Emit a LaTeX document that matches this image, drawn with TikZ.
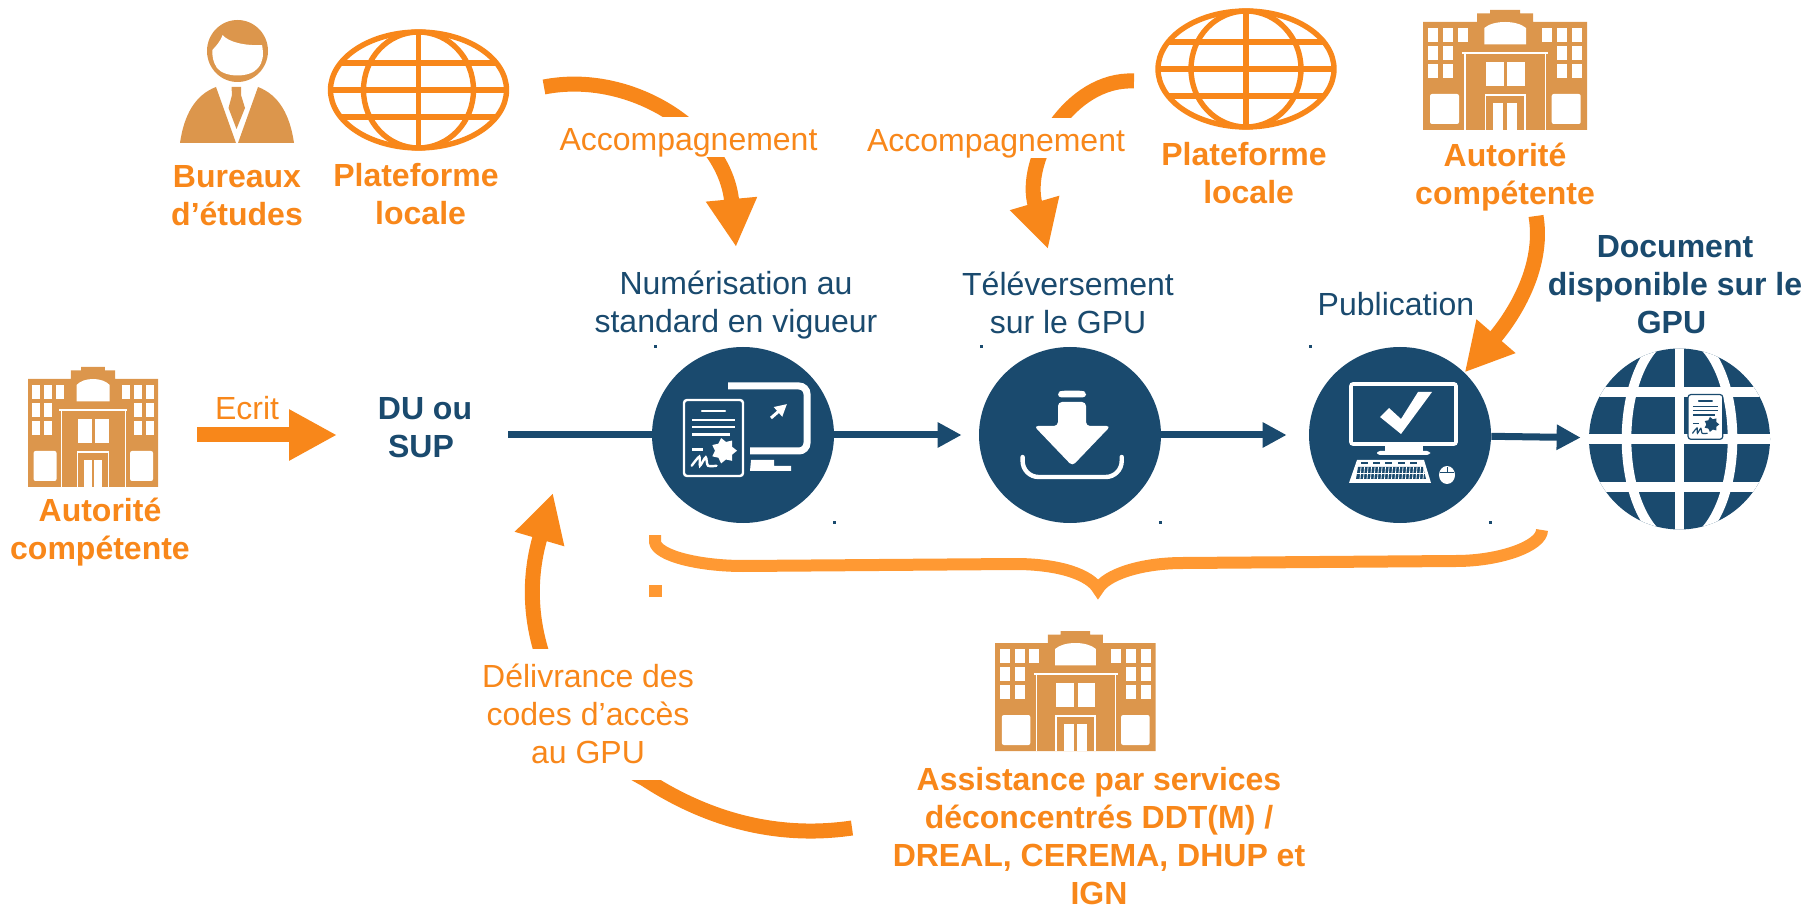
\documentclass[tikz,border=0pt]{standalone}
\usepackage{fontspec}
\setmainfont{Liberation Sans}
\usetikzlibrary{arrows.meta}
\usetikzlibrary{shapes.geometric}

\definecolor{gpunavy}{HTML}{1A4A6E}
\definecolor{gpuorange}{HTML}{F8871A}
\definecolor{bldorange}{HTML}{DC964C}
\definecolor{braceorange}{HTML}{FF9933}

\tikzset{
  % building icon, drawn in a 164 x 120 box from its top left corner
  pics/building/.style={code={
    \fill[bldorange] (0,120) -- (0,12) -- (54,12) -- (54,3.5) -- (67,3.5) -- (67,0) -- (97,0) -- (97,3.5) -- (110,3.5) -- (110,12) -- (164,12) -- (164,120) -- cycle;
    \foreach \wx in {5.3,20.3,133.7,148.7} \foreach \wy in {17.7,36,54.3}
      \fill[white] (\wx,\wy) rectangle ++(10,14);
    \fill[white] (34.7,17.7) rectangle ++(10.5,14);
    \fill[white] (118.7,17.7) rectangle ++(10,14);
    \fill[white] (61.3,34.3) -- (61.3,18) .. controls (70,10) and (94,10) .. (103,18) -- (103,34.3) -- cycle;
    \fill[white] (39.3,41.7) rectangle (125.3,44.3);
    \fill[white] (41.4,44) rectangle (42.6,120);
    \fill[white] (122,44) rectangle (123.2,120);
    \fill[white] (62.7,51.7) rectangle (80.7,76);
    \fill[white] (84.3,51.7) rectangle (102,76);
    \draw[white,line width=.6pt] (62.3,120) -- (62.3,85) -- (102,85) -- (102,120);
    \fill[white] (70.3,93.3) rectangle (80.3,120);
    \fill[white] (83.7,93.3) rectangle (93.7,120);
    \fill[white,rounded corners=1pt] (7,114) -- (7,84) -- (36,84) -- (36,114) -- cycle;
    \fill[white,rounded corners=1pt] (128.7,114) -- (128.7,84) -- (157.7,84) -- (157.7,114) -- cycle;
  }},
  % wire globe, from its centre
  pics/wireglobe/.style={code={
    \draw[gpuorange,line width=2.7pt] (0,0) ellipse [x radius=88,y radius=58];
    \draw[gpuorange,line width=2.7pt] (0,0) ellipse [x radius=55,y radius=58];
    \draw[gpuorange,line width=2.7pt] (0,-58) -- (0,58);
    \draw[gpuorange,line width=2.7pt] (-88,0) -- (88,0);
    \draw[gpuorange,line width=2.7pt] (-78,-27) -- (78,-27);
    \draw[gpuorange,line width=2.7pt] (-78,27) -- (78,27);
  }},
  % certificate icon: ink colour, paper colour, pen width
  pics/certif/.style n args={3}{code={
    \draw[#1,fill=#2,line width=#3,rounded corners=1.5pt] (0,0) rectangle (59,76);
    \draw[#1,line width=#3,line cap=round] (18,11) -- (41,11);
    \foreach \ly/\lx in {20/51,27.3/51,34.7/46}
      \draw[#1,line width=#3] (8.4,\ly) -- (\lx,\ly);
    \draw[#1,line width=#3] (8.4,49.7) -- (19,49.7);
    \fill[#1] (53,50.7) \foreach \a in {1,...,7} {-- ({40+9*cos(\a*51.43-25.7)},{50.7+9*sin(\a*51.43-25.7)}) -- ({40+13*cos(\a*51.43)},{50.7+13*sin(\a*51.43)})} -- cycle;
    \draw[#1,line width=#3,line cap=round] plot[smooth] coordinates {(7.7,65.7) (15.3,56.7) (16,65.7) (21.7,57.3) (24,65.7) (32.5,65.7)};
  }},
}

\begin{document}
\begin{tikzpicture}[x=.5pt,y=-.5pt]
\tikzstyle{every node}=[font=\fontsize{16}{19}\selectfont,align=center]
\tikzstyle{orangebold}=[text=gpuorange,font=\fontsize{16}{19}\selectfont\bfseries]
\tikzstyle{orangetext}=[text=gpuorange,fill=white,inner sep=0pt]
\tikzstyle{navybold}=[text=gpunavy,font=\fontsize{16}{19}\selectfont\bfseries]
\tikzstyle{navytext}=[text=gpunavy]
\tikzstyle{bigcircle}=[ellipse,fill=gpunavy,minimum width=91pt,minimum height=88pt,inner sep=0pt]
\tikzstyle{bigarrow}=[draw=gpuorange,line width=7.5pt,-{Triangle[length=24pt,width=24pt]}]
\tikzstyle{flowline}=[draw=gpunavy,line width=3.5pt,-{Triangle[length=12pt,width=12pt]}]

\useasboundingbox (0,0) rectangle (1808,908);

% free ends of the connectors
\coordinate (accLstart) at (544,87);
\coordinate (accLtip) at (736,247);
\coordinate (accRstart) at (1134,81);
\coordinate (accRtip) at (1048,249);
\coordinate (autoRstart) at (1536,216);
\coordinate (codesstart) at (852,828);
\coordinate (codesmid) at (645,779);
\coordinate (codestip) at (553,493);
\coordinate (ecritstart) at (197,435);
\coordinate (ecrittip) at (337,435);
\coordinate (dustart) at (508,435);

% the chain of circles
\node (numcircle) [bigcircle] at (743,435) {};
\node (telecircle) [bigcircle] at (1070,435) {};
\node (pubcircle) [bigcircle] at (1400,435) {};
\node (gpuglobe) [circle,fill=gpunavy,minimum size=90.5pt,inner sep=0pt] at (1679.5,439) {};

\node (du) [navybold] at (425,428) {DU ou\\SUP\hspace*{4pt}};
\node (autoLtext) [orangebold] at (100,532.3) {Autorité\\compétente};
\node (ecrit) [text=gpuorange] at (247,408) {Ecrit};
\node (bureaux) [orangebold] at (237,196) {Bureaux\\d’études};
\node (platLtext) [orangebold] at (416,194) {Plateforme\\\hspace*{4.6pt}locale};
\node (platRtext) [orangebold] at (1244,173.5) {Plateforme\\\hspace*{4.6pt}locale};
\node (autoRtext) [orangebold] at (1505,177) {Autorité\\compétente};
\node (docdispo) [navybold] at (1675,285) {Document\\disponible sur le\\GPU\hspace*{3.5pt}};
\node (numtext) [navytext] at (736,305.3) {Numérisation au\\standard en vigueur};
\node (teletext) [navytext] at (1068,303) {Téléversement\\sur le GPU};
\node (pubtext) [navytext] at (1396,304) {Publication};
\node (assist) [orangebold] at (1099,835.8) {Assistance par services\\déconcentrés DDT(M) /\\DREAL, CEREMA, DHUP et\\IGN};

% connectors
\draw[flowline,-] (dustart) -- (numcircle);
\draw[flowline,shorten >=8.5pt] (numcircle) -- (telecircle);
\draw[flowline,shorten >=11pt] (telecircle) -- (pubcircle);
\draw[flowline,shorten >=4pt] (pubcircle) -- (gpuglobe);
\draw[bigarrow] (ecritstart) -- (ecrittip);
\draw[bigarrow] (accLstart) .. controls (630,70) and (725,130) .. (accLtip);
\draw[bigarrow] (accRstart) .. controls (1070,78) and (1022,160) .. (accRtip);
\draw[bigarrow] (autoRstart) .. controls (1545,270) and (1510,320) .. (pubcircle.north east);
\draw[bigarrow] (codesstart) .. controls (770,840) and (700,815) .. (codesmid) .. controls (570,740) and (510,640) .. (codestip);

% the labels sit on the arrows
\node (accL) [orangetext,text height=17pt,text depth=3pt,anchor=base] at (688.5,151) {Accompagnement};
\node (accR) [orangetext,text height=17pt,text depth=3pt,anchor=base] at (996,152) {Accompagnement};
\node (codes) [orangetext,minimum height=65.5pt] at (588,714) {Délivrance des\\codes d’accès\\au GPU};

% brace under the chain
\draw[braceorange,line width=6pt] (655,535) -- (655,542) .. controls (657,556) and (700,566) .. (743,566) -- (1015,564) .. controls (1060,564) and (1090,575) .. (1098,589) .. controls (1106,575) and (1140,563) .. (1183,563) -- (1456,561) .. controls (1500,561) and (1542,546) .. (1542,530);
\fill[braceorange] (649,585) rectangle (662,597);

% stray marks
\foreach \dx/\dy in {655/347,981/347,1310/347,834/522,1160/522,1490/522}
  \fill[gpunavy] (\dx-1.5,\dy-1.5) rectangle (\dx+1.5,\dy+1.5);

% icons
\pic at (1423,10) {building};
\pic[xscale=.793] at (28,367) {building};
\pic[xscale=.98] at (995,631) {building};
\pic at (418.5,90) {wireglobe};
\pic at (1246,69) {wireglobe};

% person
\fill[bldorange] (237.5,51) ellipse [x radius=30.5,y radius=31];
\fill[white] (212.4,50) .. controls (216,46) and (220,42) .. (222.7,35) .. controls (228,42) and (245,46) .. (262,45) .. controls (264,55) and (263,62) .. (258,68) .. controls (250,78) and (225,78) .. (217,68) .. controls (213,62) and (212,56) .. (212.4,50) -- cycle;
\fill[bldorange] (180,143) .. controls (184,115) and (195,95) .. (216,87) -- (236,143) -- cycle;
\fill[bldorange] (294,143) .. controls (290,115) and (279,95) .. (258,87) -- (238,143) -- cycle;
\fill[bldorange] (231.5,87) -- (241,87) -- (241,95) -- (245,108) -- (236.5,129) -- (228.5,108) -- (232,95) -- cycle;

% first circle: certificate and screen
\pic at (684,400) {certif={white}{gpunavy}{1.2pt}};
\draw[white,line width=3.5pt,rounded corners=4pt] (728,386) -- (807,386) -- (807,451) -- (750,451);
\fill[white] (751,460) -- (774,460) -- (774,466) -- (791,466) -- (791,471) -- (750,471) -- cycle;
\draw[white,line width=1.5pt,-{Triangle[length=6pt,width=6pt]}] (771,418) -- (787,404);

% second circle: download
\fill[white,rounded corners=1.5pt] (1058,397.3) -- (1058,392) -- (1062,390.7) -- (1082,390.7) -- (1086,392) -- (1086,397.3) -- cycle;
\fill[white,rounded corners=2pt] (1058,402) -- (1086,402) -- (1086,426) -- (1110.6,426) -- (1072.3,466) -- (1034,426) -- (1058,426) -- cycle;
\draw[white,line width=2.2pt,line cap=round,rounded corners=8pt] (1022.6,457) -- (1022.6,477) -- (1121.7,477) -- (1121.7,457);

% third circle: computer
\draw[white,line width=1.8pt,rounded corners=1pt] (1351,384) rectangle (1456,444);
\fill[white] (1380,417) -- (1389,408) -- (1401,419) -- (1418,392) -- (1432,392) -- (1401,434) -- cycle;
\fill[white] (1385,445) rectangle (1423,451);
\fill[white,rounded corners=1.5pt] (1377,451) rectangle (1430,455);
\fill[white] (1357,460) -- (1424,460) -- (1431,483) -- (1349,483) -- cycle;
\fill[gpunavy] (1358,467) -- (1423,467) -- (1426,479) -- (1356,479) -- cycle;
\foreach \kx in {1361,1364.5,...,1425}
  \draw[white,line width=.4pt] (\kx,467) -- (\kx-1,479);
\draw[white,line width=.4pt] (1356,473) -- (1426,473);
\foreach \kx in {1361,1373,1385,1398,1410}
  \draw[gpunavy,line width=.6pt] (\kx,463) -- (\kx+7,463);
\fill[white] (1447,475) ellipse [x radius=8,y radius=9];
\draw[gpunavy,line width=.4pt] (1440,472) -- (1454,472) (1447,467) -- (1447,472);

% last globe
\begin{scope}
\clip (1679.5,439) circle [radius=90.5];
\draw[white,line width=4.8pt] (1679.5,439) ellipse [x radius=53,y radius=105];
\draw[white,line width=4.6pt] (1679.5,340) -- (1679.5,540);
\foreach \gy in {392,439,487}
  \draw[white,line width=4.8pt] (1580,\gy) -- (1780,\gy);
\end{scope}
\pic[scale=.59] at (1688,394.5) {certif={gpunavy}{white}{.6pt}};

\end{tikzpicture}
\end{document}
